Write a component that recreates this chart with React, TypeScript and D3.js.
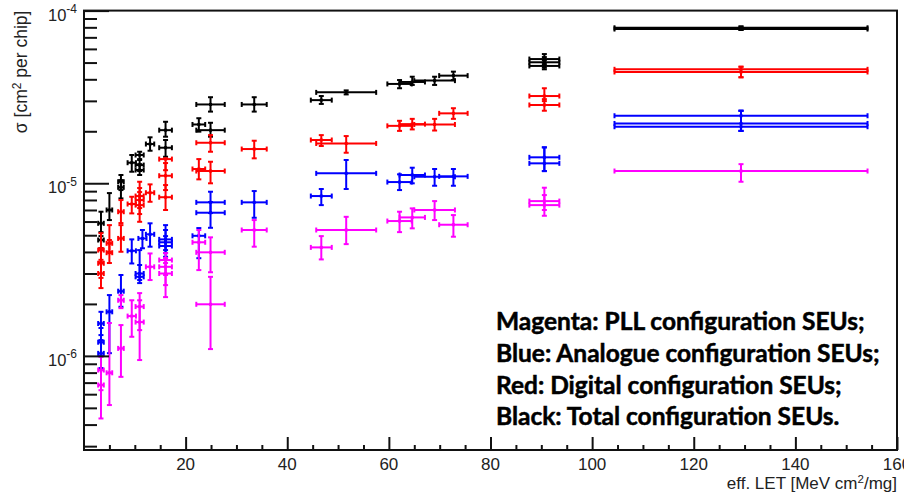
import { useEffect, useRef } from 'react'
import * as d3 from 'd3'

// [LET, LET error, sigma, sigma low, sigma high]
type Pt = [number, number, number, number, number]

const blackPoints: Pt[] = [
  [129.3, 24.9, 7.95e-5, 7.72e-5, 8.09e-5],
  [129.3, 24.9, 7.82e-5, 7.72e-5, 8.09e-5],
  [90.6, 2.95, 5.24e-5, 4.9e-5, 5.6e-5],
  [90.6, 2.95, 5.02e-5, 4.68e-5, 5.38e-5],
  [90.6, 2.95, 4.78e-5, 4.57e-5, 5.14e-5],
  [62.1, 2.4, 3.76e-5, 3.55e-5, 3.96e-5],
  [64.6, 2.5, 3.86e-5, 3.71e-5, 4.14e-5],
  [69.0, 4.0, 3.93e-5, 3.71e-5, 4.14e-5],
  [72.7, 2.8, 4.2e-5, 3.96e-5, 4.43e-5],
  [46.7, 2.06, 3.03e-5, 2.88e-5, 3.2e-5],
  [51.6, 5.9, 3.36e-5, 3.27e-5, 3.45e-5],
  [33.5, 2.46, 2.86e-5, 2.6e-5, 3.15e-5],
  [24.9, 2.8, 2.86e-5, 2.6e-5, 3.15e-5],
  [24.9, 2.8, 2.03e-5, 1.86e-5, 2.24e-5],
  [22.6, 1.25, 2.19e-5, 1.99e-5, 2.38e-5],
  [16.05, 1.25, 2.03e-5, 1.86e-5, 2.27e-5],
  [16.05, 1.25, 1.606e-5, 1.424e-5, 1.78e-5],
  [13.0, 0.82, 1.687e-5, 1.543e-5, 1.845e-5],
  [10.95, 0.8, 1.457e-5, 1.363e-5, 1.522e-5],
  [10.95, 0.8, 1.274e-5, 1.177e-5, 1.38e-5],
  [10.95, 0.8, 1.193e-5, 1.116e-5, 1.29e-5],
  [9.4, 0.82, 1.315e-5, 1.166e-5, 1.457e-5],
  [7.27, 0.55, 1.02e-5, 9.13e-6, 1.116e-5],
  [7.27, 0.55, 9.47e-6, 8.17e-6, 1.043e-5],
  [5.0, 0.55, 7.0e-6, 6.12e-6, 8.77e-6],
  [3.34, 0.55, 5.86e-6, 4.94e-6, 6.84e-6],
  [3.34, 0.55, 4.69e-6, 4.21e-6, 5.21e-6],
]

const redPoints: Pt[] = [
  [129.3, 24.9, 4.57e-5, 4.11e-5, 4.73e-5],
  [129.3, 24.9, 4.41e-5, 4.11e-5, 4.73e-5],
  [90.6, 2.95, 3.2e-5, 2.99e-5, 3.55e-5],
  [90.6, 2.95, 2.84e-5, 2.63e-5, 3.07e-5],
  [62.1, 2.4, 2.15e-5, 2.01e-5, 2.3e-5],
  [64.6, 2.5, 2.2e-5, 2.05e-5, 2.36e-5],
  [69.0, 4.0, 2.19e-5, 2.02e-5, 2.36e-5],
  [72.7, 2.8, 2.54e-5, 2.36e-5, 2.72e-5],
  [46.7, 2.06, 1.78e-5, 1.643e-5, 1.9e-5],
  [51.6, 5.9, 1.7e-5, 1.502e-5, 1.876e-5],
  [33.5, 2.46, 1.578e-5, 1.394e-5, 1.763e-5],
  [24.9, 2.8, 1.716e-5, 1.522e-5, 1.9e-5],
  [24.9, 2.8, 1.177e-5, 9.99e-6, 1.332e-5],
  [22.6, 1.25, 1.209e-5, 1.053e-5, 1.38e-5],
  [16.05, 1.25, 1.38e-5, 1.19e-5, 1.394e-5],
  [16.05, 1.25, 1.105e-5, 9.13e-6, 1.309e-5],
  [16.05, 1.25, 8.3e-6, 7.0e-6, 9.76e-6],
  [13.0, 0.82, 8.81e-6, 7.81e-6, 9.85e-6],
  [10.95, 0.8, 8.43e-6, 7.18e-6, 1.02e-5],
  [10.95, 0.8, 7.99e-6, 6.63e-6, 9.38e-6],
  [10.95, 0.8, 7.47e-6, 5.98e-6, 8.89e-6],
  [9.4, 0.82, 7.58e-6, 6.69e-6, 8.35e-6],
  [7.27, 0.55, 6.84e-6, 5.88e-6, 7.99e-6],
  [7.27, 0.55, 4.79e-6, 4.01e-6, 5.72e-6],
  [5.0, 0.55, 4.49e-6, 3.99e-6, 5.72e-6],
  [5.0, 0.55, 3.96e-6, 3.45e-6, 4.69e-6],
  [3.34, 0.55, 4.1e-6, 3.49e-6, 5.14e-6],
  [3.34, 0.55, 3.44e-6, 2.83e-6, 4.21e-6],
  [3.34, 0.55, 3.0e-6, 2.47e-6, 3.6e-6],
]

const bluePoints: Pt[] = [
  [129.3, 24.9, 2.46e-5, 2.01e-5, 2.63e-5],
  [129.3, 24.9, 2.22e-5, 2.01e-5, 2.63e-5],
  [129.3, 24.9, 2.125e-5, 2.01e-5, 2.63e-5],
  [90.6, 2.95, 1.413e-5, 1.176e-5, 1.614e-5],
  [90.6, 2.95, 1.304e-5, 1.176e-5, 1.614e-5],
  [62.1, 2.4, 1.016e-5, 9.13e-6, 1.126e-5],
  [64.6, 2.5, 1.116e-5, 9.99e-6, 1.23e-5],
  [69.0, 4.0, 1.09e-5, 9.67e-6, 1.209e-5],
  [72.7, 2.8, 1.096e-5, 9.67e-6, 1.209e-5],
  [46.7, 2.06, 8.43e-6, 7.47e-6, 9.26e-6],
  [51.6, 5.9, 1.141e-5, 9.26e-6, 1.363e-5],
  [33.5, 2.46, 7.75e-6, 6.31e-6, 9.01e-6],
  [24.9, 2.8, 7.75e-6, 6.72e-6, 8.93e-6],
  [24.9, 2.8, 6.75e-6, 5.52e-6, 7.78e-6],
  [22.6, 1.25, 4.96e-6, 3.68e-6, 5.5e-6],
  [16.05, 1.25, 4.73e-6, 4.1e-6, 5.72e-6],
  [16.05, 1.25, 4.55e-6, 3.94e-6, 5.36e-6],
  [16.05, 1.25, 4.33e-6, 3.75e-6, 4.94e-6],
  [13.0, 0.82, 5.06e-6, 4.29e-6, 5.86e-6],
  [11.5, 0.8, 4.79e-6, 4.2e-6, 5.36e-6],
  [10.95, 0.8, 3.0e-6, 2.75e-6, 4.1e-6],
  [10.95, 0.8, 2.87e-6, 2.64e-6, 3.36e-6],
  [9.4, 0.82, 4.06e-6, 3.43e-6, 4.73e-6],
  [7.27, 0.55, 2.37e-6, 1.925e-6, 2.94e-6],
  [5.0, 0.55, 1.8e-6, 1.037e-6, 2.25e-6],
  [3.34, 0.55, 1.54e-6, 1.32e-6, 1.8e-6],
  [3.34, 0.55, 1.2e-6, 9.97e-7, 1.45e-6],
  [3.34, 0.55, 1.034e-6, 8.5e-7, 1.235e-6],
]

const magentaPoints: Pt[] = [
  [129.3, 24.9, 1.177e-5, 1.02e-5, 1.29e-5],
  [90.6, 2.95, 7.88e-6, 7.0e-6, 9.42e-6],
  [90.6, 2.95, 7.47e-6, 6.48e-6, 8.54e-6],
  [62.1, 2.4, 6.04e-6, 5.21e-6, 6.84e-6],
  [64.6, 2.5, 6.34e-6, 5.48e-6, 7.15e-6],
  [69.0, 4.0, 7.0e-6, 6.12e-6, 7.88e-6],
  [72.7, 2.8, 5.75e-6, 4.9e-6, 6.54e-6],
  [46.7, 2.06, 4.25e-6, 3.62e-6, 4.94e-6],
  [51.6, 5.9, 5.36e-6, 4.44e-6, 6.39e-6],
  [33.5, 2.46, 5.36e-6, 4.29e-6, 6.12e-6],
  [24.9, 2.8, 3.98e-6, 3.05e-6, 4.86e-6],
  [24.9, 2.8, 1.99e-6, 1.095e-6, 2.87e-6],
  [22.6, 1.25, 4.55e-6, 3.14e-6, 5.36e-6],
  [16.05, 1.25, 3.59e-6, 2.94e-6, 3.94e-6],
  [16.05, 1.25, 3.28e-6, 2.57e-6, 3.69e-6],
  [16.05, 1.25, 3.0e-6, 2.19e-6, 3.45e-6],
  [13.0, 0.82, 3.28e-6, 2.75e-6, 3.92e-6],
  [10.95, 0.8, 1.93e-6, 1.41e-6, 2.31e-6],
  [10.95, 0.8, 1.57e-6, 9.46e-7, 2.1e-6],
  [9.4, 0.82, 1.7e-6, 1.29e-6, 2.1e-6],
  [7.27, 0.55, 2.1e-6, 1.89e-6, 2.25e-6],
  [7.27, 0.55, 1.105e-6, 7.56e-7, 1.508e-6],
  [5.0, 0.55, 7.98e-7, 5.19e-7, 1.55e-6],
  [3.34, 0.55, 8.28e-7, 6.33e-7, 9.88e-7],
  [3.34, 0.55, 6.78e-7, 4.34e-7, 8.28e-7],
]

const xLabelTicks = [20, 40, 60, 80, 100, 120, 140, 160]
const yDecades = [-6, -5, -4]

const legendLines = [
  'Magenta: PLL configuration SEUs;',
  'Blue: Analogue configuration SEUs;',
  'Red: Digital configuration SEUs;',
  'Black: Total configuration SEUs.',
]

const series = [
  { color: '#000000', points: blackPoints },
  { color: '#ff0000', points: redPoints },
  { color: '#0000ff', points: bluePoints },
  { color: '#ff00ff', points: magentaPoints },
]

const AXIS = '#111'
const FONT = '"Liberation Sans", Arial, sans-serif'

export default function App() {
  const svgRef = useRef<SVGSVGElement>(null)

  useEffect(() => {
    if (!svgRef.current) return
    const svg = d3.select(svgRef.current)
    svg.selectAll('*').remove()

    const left = 84, right = 897, top = 10.6, bottom = 450

    const x = d3.scaleLinear().domain([0, 160]).range([left, right])
    const y = d3.scaleLog().domain([2.85e-7, 1e-4]).range([bottom, top])

    // error bars
    const cap = 2.5
    series.forEach(s => {
      const g = svg.append('g').attr('stroke', s.color).attr('stroke-width', 2).attr('fill', 'none')
      s.points.forEach(p => {
        const px = x(p[0]), py = y(p[2])
        const x0 = x(p[0] - p[1]), x1 = x(p[0] + p[1])
        const yl = y(p[3]), yh = y(p[4])
        g.append('line').attr('x1', x0).attr('x2', x1).attr('y1', py).attr('y2', py)
        g.append('line').attr('x1', px).attr('x2', px).attr('y1', yl).attr('y2', yh)
        g.append('line').attr('x1', x0).attr('x2', x0).attr('y1', py - cap).attr('y2', py + cap)
        g.append('line').attr('x1', x1).attr('x2', x1).attr('y1', py - cap).attr('y2', py + cap)
        g.append('line').attr('x1', px - cap).attr('x2', px + cap).attr('y1', yl).attr('y2', yl)
        g.append('line').attr('x1', px - cap).attr('x2', px + cap).attr('y1', yh).attr('y2', yh)
        svg.append('rect')
          .attr('x', px - 1.5).attr('y', py - 1.5).attr('width', 3).attr('height', 3)
          .attr('fill', s.color)
      })
    })

    // y ticks
    const yMajor = yDecades.map(e => Math.pow(10, e))
    const yMinor: number[] = []
    ;[-7, -6, -5].forEach(e => {
      for (let k = 2; k <= 9; k++) {
        const v = k * Math.pow(10, e)
        if (v >= 2.85e-7 && v <= 1e-4) yMinor.push(v)
      }
    })

    const styleAxis = (sel: any) => {
      sel.select('.domain').remove()
      sel.selectAll('line').attr('stroke', AXIS).attr('stroke-width', 2)
    }

    svg.append('g')
      .attr('transform', `translate(${left},0)`)
      .call(d3.axisRight(y).tickValues(yMajor).tickSize(25).tickFormat(() => ''))
      .call(styleAxis)
    svg.append('g')
      .attr('transform', `translate(${left},0)`)
      .call(d3.axisRight(y).tickValues(yMinor).tickSize(13).tickFormat(() => ''))
      .call(styleAxis)

    // x ticks
    const xMinor = d3.range(5, 160, 5).filter(v => v % 20 !== 0)
    svg.append('g')
      .attr('transform', `translate(0,${bottom})`)
      .call(d3.axisTop(x).tickValues(xLabelTicks).tickSize(13).tickFormat(() => ''))
      .call(styleAxis)
    svg.append('g')
      .attr('transform', `translate(0,${bottom})`)
      .call(d3.axisTop(x).tickValues(xMinor).tickSize(5).tickFormat(() => ''))
      .call(styleAxis)

    // frame
    svg.append('rect')
      .attr('x', left).attr('y', top)
      .attr('width', right - left).attr('height', bottom - top)
      .attr('fill', 'none').attr('stroke', AXIS).attr('stroke-width', 2)

    // y labels
    yDecades.forEach(e => {
      const t = svg.append('text')
        .attr('x', 77).attr('y', y(Math.pow(10, e)) + 10)
        .attr('text-anchor', 'end')
        .attr('font-family', FONT).attr('font-size', 16.5).attr('fill', '#222')
      t.append('tspan').text('10')
      t.append('tspan').attr('dy', -7.5).attr('font-size', 12).text(`-${-e}`)
    })

    // x labels (the last one runs off the right edge, as in the original)
    xLabelTicks.forEach(v => {
      svg.append('text')
        .attr('x', x(v)).attr('y', 470)
        .attr('text-anchor', 'middle')
        .attr('font-family', FONT).attr('font-size', 17).attr('fill', '#222')
        .text(v)
    })

    // x title
    const xt = svg.append('text')
      .attr('x', right).attr('y', 489)
      .attr('text-anchor', 'end')
      .attr('font-family', FONT).attr('font-size', 17).attr('fill', '#222')
    xt.append('tspan').text('eff. LET [MeV cm')
    xt.append('tspan').attr('dy', -6.5).attr('font-size', 11.5).text('2')
    xt.append('tspan').attr('dy', 6.5).text('/mg]')

    // y title
    const yt = svg.append('text')
      .attr('transform', `translate(27,${top}) rotate(-90)`)
      .attr('text-anchor', 'end')
      .attr('font-family', FONT).attr('font-size', 17.5).attr('fill', '#222')
    yt.append('tspan').text('σ [cm')
    yt.append('tspan').attr('dy', -6.5).attr('font-size', 12).text('2')
    yt.append('tspan').attr('dy', 6.5).text(' per chip]')

    // legend text
    legendLines.forEach((line, i) => {
      svg.append('text')
        .attr('x', 496).attr('y', 330 + i * 31.8)
        .attr('font-family', 'Lato, "Open Sans", sans-serif')
        .attr('font-weight', 'bold').attr('font-size', 24.5).attr('fill', '#000')
        .attr('stroke', '#000').attr('stroke-width', 0.5)
        .text(line)
    })
  }, [])

  return (
    <div style={{ position: 'absolute', left: 0, top: 0 }}>
      <svg ref={svgRef} width={904} height={498} style={{ display: 'block', background: '#fff' }} />
    </div>
  )
}
